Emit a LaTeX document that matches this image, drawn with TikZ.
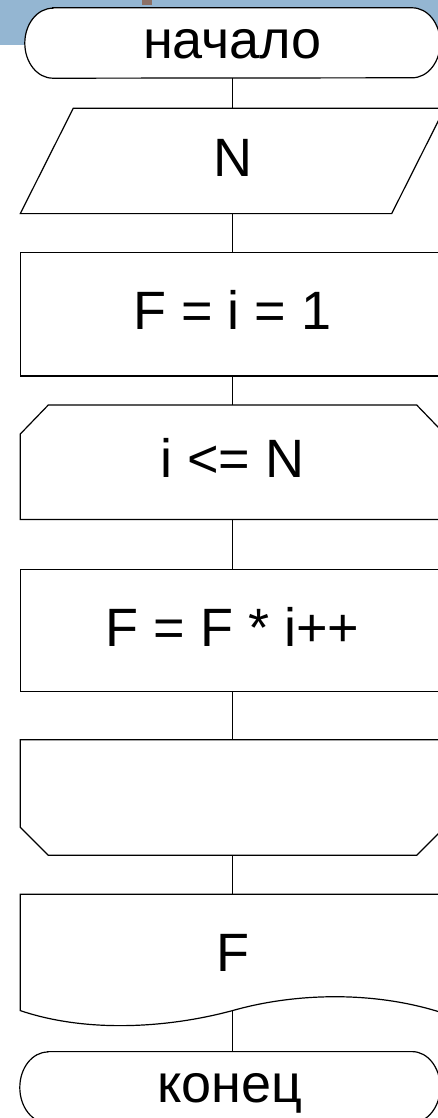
\documentclass[tikz,border=0pt]{standalone}
\usepackage{fontspec}
\setmainfont{Liberation Sans}
\usetikzlibrary{positioning, backgrounds}

\definecolor{slideblue}{RGB}{148,182,210}
\definecolor{slidebrown}{RGB}{140,112,102}

\begin{document}
\begin{tikzpicture}[
    x=1pt, y=-1pt,
    blk/.style={rectangle, inner sep=0pt, minimum width=424pt, text height=39pt, text depth=8pt,
        font=\fontsize{54}{60}\selectfont},
    line/.style={line width=1.2pt, line join=miter}
]
\useasboundingbox (0,0) rectangle (438,1118);
\clip (0,0) rectangle (438,1118);

\node[blk, minimum width=415pt, minimum height=70pt] (start) at (232.5,43) {начало};
\node[blk, minimum width=371pt, minimum height=105pt, below=30pt of start] (input) {N};
\node[blk, minimum height=123pt, below=39pt of input] (init) {F = i = 1};
\node[blk, minimum height=114pt, below=29pt of init] (loopA) {i <= N};
\node[blk, minimum height=122pt, below=50pt of loopA] (body) {F = F * i++};
\node[blk, minimum height=115pt, below=48pt of body] (loopB) {};
\node[blk, minimum height=116pt, text depth=0pt, below=39pt of loopB] (output) {F};
\node[blk, minimum width=420pt, minimum height=71pt, below=41pt of output, xshift=-2.5pt] (end) {конец};

% slide background and start block
\begin{scope}[on background layer]
\fill[slideblue] (0,0) rectangle (438,45);
\fill[slidebrown] (142,0) rectangle (152,5);
\draw[line, fill=white] ([xshift=28pt]start.north west) -- ([xshift=-28pt]start.north east)
    arc[start angle=90, end angle=-90, x radius=28pt, y radius=35pt]
    -- ([xshift=28pt]start.south west)
    arc[start angle=270, end angle=90, x radius=28pt, y radius=35pt] -- cycle;
\end{scope}

\draw[line] ([xshift=-26.5pt]input.south west) -- ([xshift=26.5pt]input.north west)
    -- ([xshift=26.5pt]input.north east) -- ([xshift=-26.5pt]input.south east) -- cycle;
\draw[line] (init.north west) rectangle (init.south east);
\draw[line] ([yshift=-29pt]loopA.north west) -- ([xshift=28pt]loopA.north west)
    -- ([xshift=-28pt]loopA.north east) -- ([yshift=-29pt]loopA.north east)
    -- (loopA.south east) -- (loopA.south west) -- cycle;
\draw[line] (body.north west) rectangle (body.south east);
\draw[line] (loopB.north west) -- (loopB.north east) -- ([yshift=28pt]loopB.south east)
    -- ([xshift=-28pt]loopB.south east) -- ([xshift=28pt]loopB.south west)
    -- ([yshift=28pt]loopB.south west) -- cycle;
\draw[line] (output.north west) -- (output.south west)
    .. controls +(65,22) and +(-67,18) .. (output.south)
    .. controls +(63,-18) and +(-69,-23) .. ([yshift=-3pt]output.south east)
    -- (output.north east) -- cycle;
\draw[line] ([xshift=28pt]end.north west) -- ([xshift=-28pt]end.north east)
    arc[start angle=90, end angle=-90, x radius=28pt, y radius=35.5pt]
    -- ([xshift=28pt]end.south west)
    arc[start angle=270, end angle=90, x radius=28pt, y radius=35.5pt] -- cycle;

\draw[line] (start) -- (input);
\draw[line] (input) -- (init);
\draw[line] (init) -- (loopA);
\draw[line] (loopA) -- (body);
\draw[line] (body) -- (loopB);
\draw[line] (loopB) -- (output);
\draw[line] (output.south) -- (output.south |- end.north);
\end{tikzpicture}
\end{document}
